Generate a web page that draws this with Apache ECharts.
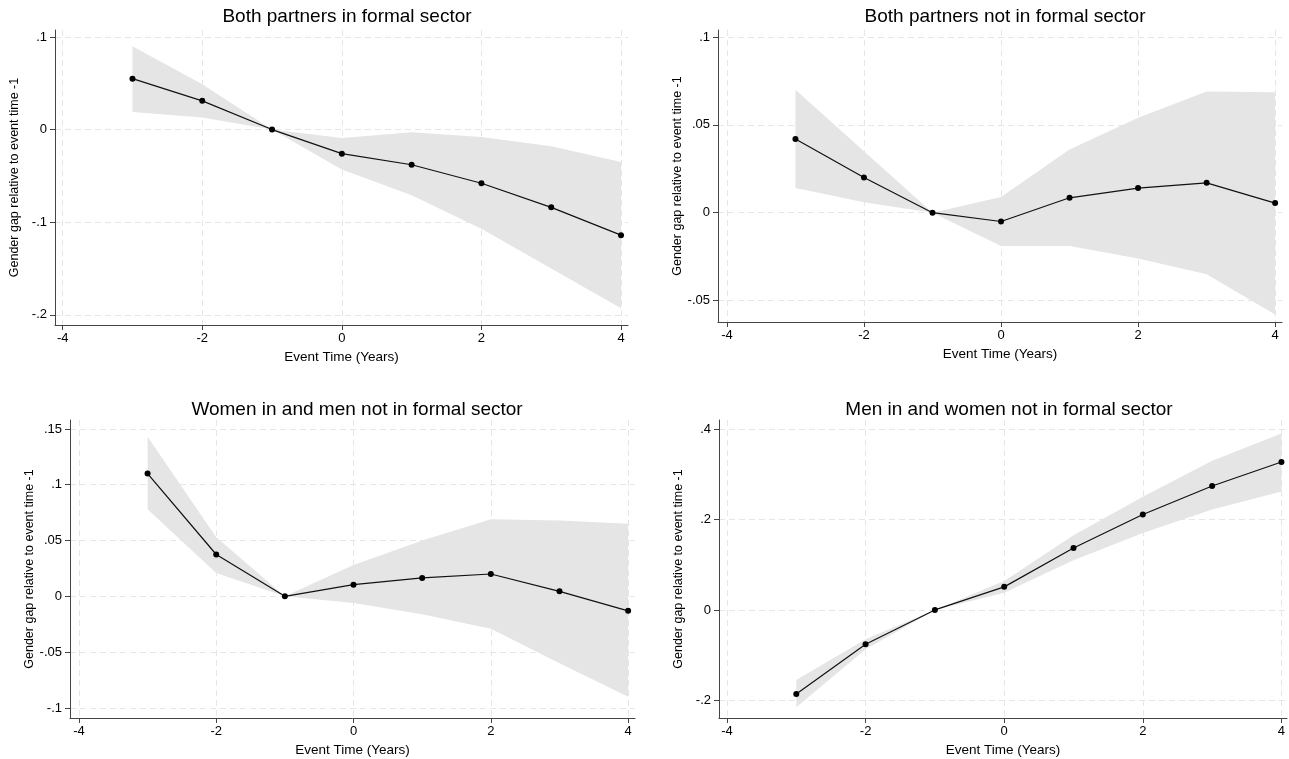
<!DOCTYPE html>
<html>
<head>
<meta charset="utf-8">
<script src="https://cdn.jsdelivr.net/npm/echarts@6/dist/echarts.min.js"></script>
<style>
html,body{margin:0;padding:0;background:#fff;}
#chart{width:1289px;height:759px;}
</style>
</head>
<body>
<div id="chart"></div>
<script>
// event time on the x axis, same for all four panels
var eventTime = [-3, -2, -1, 0, 1, 2, 3, 4];
var xTicks = [-4, -2, 0, 2, 4];

var titles = [
    "Both partners in formal sector",
    "Both partners not in formal sector",
    "Women in and men not in formal sector",
    "Men in and women not in formal sector"
];

// point estimates
var bothFormal    = [0.055, 0.031, 0, -0.026, -0.038, -0.058, -0.084, -0.114];
var bothInformal  = [0.042, 0.020, 0, -0.005, 0.0085, 0.014, 0.017, 0.0055];
var womenFormal   = [0.110, 0.0375, 0, 0.0105, 0.0165, 0.020, 0.0045, -0.013];
var menFormal     = [-0.186, -0.076, 0, 0.051, 0.137, 0.211, 0.274, 0.327];

// confidence bands
var bothFormalHi   = [0.090, 0.049, 0, -0.009, -0.003, -0.008, -0.018, -0.035];
var bothFormalLo   = [0.019, 0.013, 0, -0.043, -0.071, -0.107, -0.150, -0.193];
var bothInformalHi = [0.070, 0.035, 0, 0.009, 0.036, 0.054, 0.069, 0.0685];
var bothInformalLo = [0.014, 0.006, 0, -0.019, -0.019, -0.026, -0.035, -0.058];
var womenFormalHi  = [0.143, 0.053, 0, 0.028, 0.050, 0.069, 0.068, 0.065];
var womenFormalLo  = [0.078, 0.021, 0, -0.006, -0.016, -0.029, -0.060, -0.090];
var menFormalHi    = [-0.155, -0.065, 0, 0.064, 0.165, 0.250, 0.330, 0.390];
var menFormalLo    = [-0.215, -0.087, 0, 0.038, 0.110, 0.170, 0.222, 0.262];

// y tick labels
var yTicks1 = [-0.2, -0.1, 0, 0.1];
var yTicks2 = [-0.05, 0, 0.05, 0.1];
var yTicks3 = [-0.1, -0.05, 0, 0.05, 0.1, 0.15];
var yTicks4 = [-0.2, 0, 0.2, 0.4];

var panels = [
    {coef: bothFormal,   hi: bothFormalHi,   lo: bothFormalLo,   yTicks: yTicks1,
     grid: {left: 55, top: 30, width: 573, height: 295},  xMin: -4.11, xMax: 4.1,  yMin: -0.211, yMax: 0.1075,
     titleX: 342, titleY: 2},
    {coef: bothInformal, hi: bothInformalHi, lo: bothInformalLo, yTicks: yTicks2,
     grid: {left: 718, top: 30, width: 564, height: 292}, xMin: -4.13, xMax: 4.1,  yMin: -0.0622, yMax: 0.104,
     titleX: 1000, titleY: 2},
    {coef: womenFormal,  hi: womenFormalHi,  lo: womenFormalLo,  yTicks: yTicks3,
     grid: {left: 70, top: 420, width: 565, height: 298}, xMin: -4.13, xMax: 4.1,  yMin: -0.109, yMax: 0.158,
     titleX: 352, titleY: 395},
    {coef: menFormal,    hi: menFormalHi,    lo: menFormalLo,    yTicks: yTicks4,
     grid: {left: 719, top: 420, width: 568, height: 298}, xMin: -4.115, xMax: 4.08, yMin: -0.239, yMax: 0.42,
     titleX: 1004, titleY: 395}
];

var fontFamily = "Liberation Sans, Arial, sans-serif";
var gridLine = {show: true, lineStyle: {color: "#e6e6e6", type: [6, 4], width: 1}};

// stata style labels: .1 instead of 0.1
function stataLabel(v){
    var s = String(+(+v).toFixed(4));
    return s.replace(/^(-?)0\./, "$1.");
}

function pairs(ys){
    var out = [];
    for(var i = 0; i < eventTime.length; i++){
        out.push([eventTime[i], ys[i]]);
    }
    return out;
}

// shaded band: polygon through upper bounds and back along lower bounds
function bandRenderer(hi, lo){
    return function(params, api){
        var pts = [];
        for(var k = 0; k < eventTime.length; k++){
            pts.push(api.coord([eventTime[k], hi[k]]));
        }
        for(var k = eventTime.length - 1; k >= 0; k--){
            pts.push(api.coord([eventTime[k], lo[k]]));
        }
        return {
            type: "polygon",
            shape: {points: pts},
            style: {fill: "#e5e5e5", stroke: null}
        };
    };
}

var option = {
    backgroundColor: "#fff",
    animation: false,
    textStyle: {fontFamily: fontFamily},
    title: [],
    grid: [],
    xAxis: [],
    yAxis: [],
    series: []
};

for(var i = 0; i < panels.length; i++){
    var p = panels[i];

    option.title.push({
        text: titles[i],
        left: p.titleX,
        top: p.titleY,
        textAlign: "center",
        textStyle: {fontSize: 19, fontWeight: "normal", color: "#000", fontFamily: fontFamily}
    });
    option.grid.push(p.grid);

    option.xAxis.push({
        type: "value",
        gridIndex: i,
        min: p.xMin,
        max: p.xMax,
        name: "Event Time (Years)",
        nameLocation: "middle",
        nameGap: 25,
        nameTextStyle: {fontSize: 13.5, color: "#000"},
        axisLine: {onZero: false, lineStyle: {color: "#444", width: 1}},
        axisTick: {show: true, length: 5, customValues: xTicks, lineStyle: {color: "#444"}},
        axisLabel: {customValues: xTicks, fontSize: 13, color: "#000", margin: 7, formatter: stataLabel},
        splitLine: gridLine
    });
    option.yAxis.push({
        type: "value",
        gridIndex: i,
        min: p.yMin,
        max: p.yMax,
        name: "Gender gap relative to event time -1",
        nameLocation: "middle",
        nameGap: 34,
        nameTextStyle: {fontSize: 12.5, color: "#000"},
        axisLine: {show: true, onZero: false, lineStyle: {color: "#444", width: 1}},
        axisTick: {show: true, length: 5, customValues: p.yTicks, lineStyle: {color: "#444"}},
        axisLabel: {customValues: p.yTicks, fontSize: 13, color: "#000", margin: 8, formatter: stataLabel},
        splitLine: gridLine
    });

    option.series.push({
        type: "custom",
        xAxisIndex: i,
        yAxisIndex: i,
        data: [[0, 0]],
        renderItem: bandRenderer(p.hi, p.lo),
        silent: true,
        z: 1
    });
    option.series.push({
        type: "line",
        xAxisIndex: i,
        yAxisIndex: i,
        data: pairs(p.coef),
        symbol: "circle",
        symbolSize: 6,
        itemStyle: {color: "#000"},
        lineStyle: {color: "#111", width: 1.2},
        z: 3
    });
}

var myChart = echarts.init(document.getElementById("chart"));
myChart.setOption(option);
window.onresize = myChart.resize;
</script>
</body>
</html>
